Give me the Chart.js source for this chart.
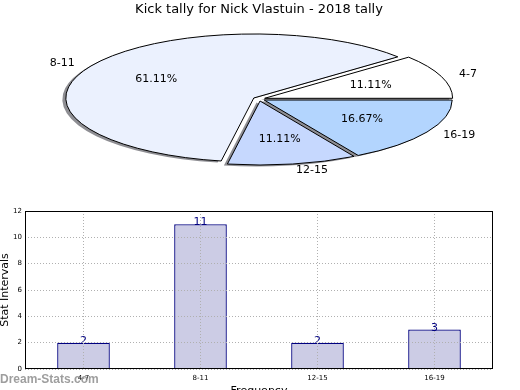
<!DOCTYPE html>
<html><head><meta charset="utf-8">
<script src="https://cdn.jsdelivr.net/npm/chart.js@4/dist/chart.umd.min.js"></script>
<style>
html,body{margin:0;padding:0;width:520px;height:390px;overflow:hidden;background:#fff;}
#pieWrap{position:absolute;left:0;top:0;width:520px;height:200px;}
#barWrap{position:absolute;left:0;top:200px;width:520px;height:205px;}
#wm{position:absolute;left:0;top:372px;font:bold 12px "Liberation Sans",Arial,sans-serif;color:rgba(125,125,125,0.75);white-space:nowrap;}
</style></head><body>
<div id="pieWrap"><canvas id="pie" width="520" height="200"></canvas></div>
<div id="barWrap"><canvas id="bar" width="520" height="205"></canvas></div>
<div id="wm">Dream-Stats.com</div>
<script>
// ---- data ----
const chartTitle = 'Kick tally for Nick Vlastuin - 2018 tally';
const categories = ['4-7', '8-11', '12-15', '16-19'];
const counts = [2, 11, 2, 3];
const yTicks = [0, 2, 4, 6, 8, 10, 12];
const sliceColors = ['#ffffff', '#ebf1fe', '#c6d8fe', '#b3d5fe'];
const xTitle = 'Frequency';
const yTitle = 'Stat Intervals';

// ---- pie (drawn clockwise from 3 o'clock, so reverse the order) ----
const pieLabels = categories.slice().reverse();
const pieValues = counts.slice().reverse();
const pieColors = sliceColors.slice().reverse();
const total = counts.reduce((a, b) => a + b, 0);

const K = 64 / 188;      // vertical squash of the pie
const EXPLODE = 6;       // explode distance (pre-squash px)
const FONT = '"DejaVu Sans", sans-serif';

const ellipsePlugin = {
  id: 'ellipse',
  beforeDatasetsDraw(chart) {
    const ctx = chart.ctx;
    const meta = chart.getDatasetMeta(0);
    const a0 = meta.data[0];
    const cx = a0.x, cy = a0.y;
    ctx.save();
    const base = ctx.getTransform();
    ctx.translate(cx, cy); ctx.scale(1, K); ctx.translate(-cx, -cy);
    ctx.shadowColor = 'rgba(30,30,40,0.5)';
    ctx.shadowOffsetX = -3.5;
    ctx.shadowOffsetY = 1.5;
    ctx.shadowBlur = 0;
    const orig = CanvasRenderingContext2D.prototype.stroke;
    ctx.stroke = function () {
      this.save();
      this.setTransform(base);
      this.shadowColor = 'rgba(0,0,0,0)';
      orig.apply(this, arguments);
      this.restore();
    };
    meta.data.forEach(arc => {
      if (!arc.__wrapped) {
        const proto = Object.getPrototypeOf(arc).draw;
        arc.draw = function (c, area) {
          const h = (this.startAngle + this.endAngle) / 2;
          c.save();
          c.translate(Math.cos(h) * EXPLODE, Math.sin(h) * EXPLODE);
          proto.call(this, c, area);
          c.restore();
        };
        arc.__wrapped = true;
      }
    });
  },
  afterDatasetsDraw(chart) {
    const ctx = chart.ctx;
    delete ctx.stroke;
    ctx.restore();
    // labels
    const meta = chart.getDatasetMeta(0);
    ctx.save();
    ctx.fillStyle = '#000';
    ctx.font = '11px ' + FONT;
    ctx.textBaseline = 'middle';
    meta.data.forEach((arc, i) => {
      const h = (arc.startAngle + arc.endAngle) / 2;
      const R = arc.outerRadius;
      const c = Math.cos(h), s = Math.sin(h);
      const lx = arc.x + c * (R * 1.1 + EXPLODE);
      const ly = arc.y + s * (R * 1.1 + EXPLODE) * K;
      ctx.textAlign = c > 0 ? 'left' : 'right';
      ctx.fillText(pieLabels[i], lx, ly);
      const px = arc.x + c * (R * 0.6 + EXPLODE);
      const py = arc.y + s * (R * 0.6 + EXPLODE) * K;
      ctx.textAlign = 'center';
      ctx.fillText((pieValues[i] / total * 100).toFixed(2) + '%', px, py);
    });
    ctx.restore();
  }
};

new Chart(document.getElementById('pie'), {
  type: 'pie',
  data: {
    labels: pieLabels,
    datasets: [{
      data: pieValues,
      backgroundColor: pieColors,
      borderColor: '#000',
      borderWidth: 1,
      borderJoinStyle: 'miter',
      radius: 188,
      hoverOffset: 0
    }]
  },
  options: {
    responsive: false,
    animation: false,
    rotation: 90,
    layout: { padding: { left: 0, right: 2, top: 0, bottom: 19.6 } },
    plugins: {
      legend: { display: false },
      tooltip: { enabled: false },
      title: {
        display: true, text: chartTitle, color: '#000',
        font: { family: FONT, size: 13, weight: 'normal' },
        padding: { top: 2, bottom: 0 }
      }
    }
  },
  plugins: [ellipsePlugin]
});

// ---- bar chart ----
const boxPlugin = {
  id: 'box',
  afterDatasetsDraw(chart) {
    const ctx = chart.ctx;
    const meta = chart.getDatasetMeta(0);
    ctx.save();
    ctx.fillStyle = '#000080';
    ctx.font = '11px ' + FONT;
    ctx.textAlign = 'center';
    ctx.textBaseline = 'alphabetic';
    meta.data.forEach((bar, i) => {
      ctx.fillText(String(counts[i]), bar.x, bar.y + 1);
    });
    ctx.restore();
  },
  afterDraw(chart) {
    const {left, top, right, bottom} = chart.chartArea;
    const ctx = chart.ctx;
    ctx.save();
    ctx.strokeStyle = '#000';
    ctx.lineWidth = 1;
    ctx.strokeRect(Math.round(left) + 0.5, Math.round(top) + 0.5, Math.round(right - left) - 1, Math.round(bottom - top) - 1);
    ctx.restore();
  }
};

new Chart(document.getElementById('bar'), {
  type: 'bar',
  data: {
    labels: categories,
    datasets: [{
      data: counts,
      backgroundColor: '#ccccE5',
      borderColor: '#000080',
      borderWidth: 1.3,
      barPercentage: 0.45,
      categoryPercentage: 1
    }]
  },
  options: {
    responsive: false,
    animation: false,
    layout: { padding: { top: 11, right: 27, left: 0, bottom: 0 } },
    plugins: { legend: { display: false }, tooltip: { enabled: false } },
    scales: {
      x: {
        offset: true,
        grid: { offset: false, color: '#b0b0b0', lineWidth: 1, drawTicks: false, z: 1 },
        border: { display: false, dash: [1, 2] },
        ticks: { color: '#000', font: { family: FONT, size: 7 }, padding: 5, maxRotation: 0 },
        title: { display: true, text: xTitle, color: '#000', font: { family: FONT, size: 11 }, padding: { top: 0, bottom: 7.4 } },
        afterFit(scale) { scale.height = 36; }
      },
      y: {
        min: 0, max: 12,
        afterBuildTicks(scale) { scale.ticks = yTicks.map(v => ({ value: v })); },
        grid: { color: '#b0b0b0', lineWidth: 1, drawTicks: false, z: 1 },
        border: { display: false, dash: [1, 2] },
        ticks: { color: '#000', font: { family: FONT, size: 7 }, padding: 3 },
        title: { display: true, text: yTitle, color: '#000', font: { family: FONT, size: 11 }, padding: { top: -1, bottom: 0 } },
        afterFit(scale) { scale.width = 25; }
      }
    }
  },
  plugins: [boxPlugin]
});
</script>
</body></html>
